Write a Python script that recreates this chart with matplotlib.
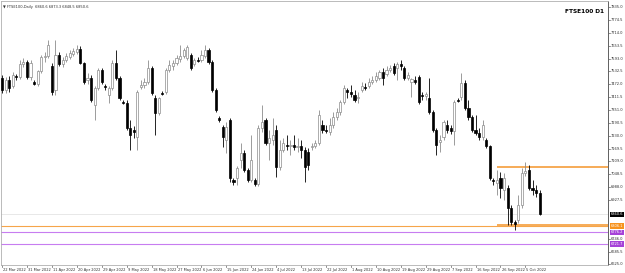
import matplotlib
matplotlib.use("Agg")
import matplotlib.pyplot as plt
from matplotlib.transforms import blended_transform_factory
import numpy as np

# FTSE100 daily candles, 22 Mar 2022 .. Oct 2022
OPEN = [7501, 7445, 7492, 7464, 7511, 7506, 7567, 7577, 7506, 7483,
        7473, 7534, 7600, 7605, 7558, 7445, 7610, 7567, 7586, 7600,
        7614, 7624, 7638, 7572, 7492, 7501, 7374, 7454, 7539, 7464,
        7422, 7454, 7572, 7501, 7389, 7384, 7266, 7257, 7224, 7459,
        7468, 7483, 7548, 7407, 7337, 7431, 7436, 7539, 7558, 7572,
        7591, 7605, 7595, 7610, 7567, 7586, 7586, 7605, 7633, 7577,
        7445, 7313, 7271, 7210, 7304, 7022, 7031, 7116, 7149, 7069,
        7022, 7022, 7003, 7266, 7304, 7196, 7210, 7257, 7083, 7163,
        7186, 7182, 7186, 7177, 7182, 7163, 7154, 7177, 7182, 7196,
        7280, 7257, 7248, 7280, 7318, 7342, 7389, 7445, 7436, 7422,
        7407, 7445, 7459, 7464, 7483, 7492, 7501, 7530, 7520, 7539,
        7558, 7548, 7567, 7548, 7501, 7483, 7492, 7506, 7422, 7417,
        7407, 7342, 7257, 7201, 7224, 7280, 7266, 7252, 7398, 7412,
        7478, 7360, 7318, 7257, 7243, 7224, 7210, 7182, 7022, 7008,
        7031, 6975, 6984, 6890, 6825, 6834, 6904, 7055, 7069, 6984,
        6975, 6961]
HIGH = [7515, 7506, 7511, 7530, 7520, 7586, 7595, 7586, 7586, 7492,
        7539, 7610, 7624, 7680, 7572, 7680, 7624, 7600, 7619, 7633,
        7642, 7656, 7652, 7577, 7525, 7515, 7464, 7548, 7548, 7473,
        7464, 7586, 7633, 7511, 7398, 7398, 7304, 7276, 7445, 7492,
        7501, 7586, 7558, 7422, 7412, 7440, 7548, 7586, 7586, 7610,
        7656, 7642, 7656, 7619, 7595, 7600, 7633, 7656, 7642, 7586,
        7454, 7323, 7280, 7295, 7313, 7031, 7088, 7196, 7163, 7078,
        7234, 7031, 7280, 7374, 7313, 7257, 7313, 7280, 7210, 7219,
        7234, 7210, 7234, 7219, 7210, 7177, 7172, 7196, 7210, 7351,
        7304, 7280, 7313, 7342, 7360, 7398, 7468, 7454, 7468, 7445,
        7436, 7483, 7478, 7501, 7511, 7530, 7539, 7548, 7558, 7562,
        7572, 7577, 7586, 7558, 7530, 7501, 7511, 7515, 7436, 7436,
        7501, 7351, 7266, 7234, 7304, 7304, 7280, 7398, 7407, 7525,
        7492, 7398, 7328, 7328, 7266, 7304, 7219, 7186, 7031, 7069,
        7060, 7055, 6998, 6904, 6834, 6952, 7078, 7107, 7092, 7022,
        6998, 6975]
LOW = [7431, 7431, 7436, 7454, 7492, 7497, 7553, 7497, 7492, 7468,
       7464, 7525, 7577, 7595, 7422, 7422, 7558, 7553, 7577, 7591,
       7605, 7614, 7567, 7473, 7473, 7389, 7304, 7445, 7473, 7445,
       7384, 7445, 7492, 7398, 7379, 7257, 7163, 7219, 7163, 7450,
       7454, 7473, 7422, 7234, 7328, 7422, 7426, 7530, 7539, 7562,
       7577, 7595, 7586, 7539, 7558, 7577, 7577, 7595, 7567, 7436,
       7342, 7295, 7177, 7149, 7013, 6998, 6998, 7078, 7060, 7013,
       7013, 6994, 6994, 7248, 7186, 7116, 7186, 7036, 7069, 7154,
       7163, 7140, 7163, 7154, 7125, 7013, 7069, 7163, 7172, 7186,
       7243, 7243, 7234, 7266, 7304, 7328, 7379, 7407, 7412, 7389,
       7384, 7436, 7445, 7454, 7473, 7483, 7492, 7468, 7511, 7530,
       7515, 7492, 7539, 7492, 7492, 7412, 7473, 7379, 7398, 7398,
       7332, 7248, 7140, 7154, 7210, 7243, 7238, 7186, 7389, 7398,
       7351, 7304, 7248, 7234, 7210, 7210, 7172, 7022, 6998, 6952,
       6937, 6928, 6810, 6810, 6787, 6820, 6890, 7041, 6975, 6952,
       6942, 6858]
CLOSE = [7445, 7492, 7454, 7515, 7506, 7567, 7577, 7506, 7572, 7473,
         7534, 7600, 7605, 7656, 7436, 7610, 7567, 7586, 7605, 7619,
         7628, 7638, 7572, 7483, 7501, 7398, 7454, 7539, 7483, 7459,
         7454, 7572, 7501, 7407, 7384, 7266, 7234, 7248, 7436, 7468,
         7483, 7548, 7431, 7337, 7407, 7426, 7539, 7562, 7572, 7595,
         7605, 7633, 7647, 7548, 7586, 7582, 7610, 7633, 7577, 7445,
         7351, 7304, 7224, 7271, 7031, 7013, 7078, 7149, 7069, 7022,
         7116, 7003, 7266, 7295, 7196, 7219, 7234, 7083, 7163, 7196,
         7182, 7186, 7177, 7182, 7163, 7083, 7092, 7182, 7196, 7328,
         7257, 7252, 7280, 7318, 7342, 7389, 7454, 7436, 7426, 7398,
         7412, 7464, 7454, 7483, 7492, 7511, 7530, 7501, 7539, 7548,
         7525, 7567, 7558, 7501, 7515, 7497, 7483, 7389, 7417, 7426,
         7342, 7257, 7186, 7210, 7295, 7257, 7252, 7389, 7393, 7478,
         7360, 7318, 7257, 7243, 7224, 7280, 7182, 7031, 7017, 7022,
         6984, 7031, 6890, 6825, 6815, 6904, 7055, 7064, 6984, 6975,
         6961, 6860.6]

DATE_LABELS = ["22 Mar 2022", "31 Mar 2022", "11 Apr 2022", "20 Apr 2022",
               "29 Apr 2022", "9 May 2022", "18 May 2022", "27 May 2022",
               "6 Jun 2022", "15 Jun 2022", "24 Jun 2022", "4 Jul 2022",
               "13 Jul 2022", "22 Jul 2022", "1 Aug 2022", "10 Aug 2022",
               "19 Aug 2022", "29 Aug 2022", "7 Sep 2022", "16 Sep 2022",
               "26 Sep 2022", "5 Oct 2022"]

PRICE_TICKS = [7835.0, 7774.5, 7714.0, 7653.5, 7593.0, 7532.5, 7472.0,
               7411.5, 7351.0, 7290.5, 7230.0, 7169.5, 7109.0, 7048.5,
               6988.0, 6927.5, 6867.0, 6806.5, 6746.0, 6685.5, 6625.0]

# horizontal levels
ORANGE_LEVEL = 6806.1
PURPLE_LEVELS = [6776.2, 6721.7]
BOX_TOP = 7085.0
BOX_BOTTOM = 6810.0
BOX_START = 139  # bar index where the box starts

ORANGE = "#f6a54a"
PURPLE = "#c77df0"
BULL_EDGE = "#8c8c8c"


def main():
    o = np.array(OPEN, float)
    h = np.array(HIGH, float)
    l = np.array(LOW, float)
    c = np.array(CLOSE, float)
    n = len(c)
    x = np.arange(n)
    bull = c >= o

    fig = plt.figure(figsize=(6.25, 2.73), dpi=100)
    fig.patch.set_facecolor("white")
    ax = fig.add_axes([1 / 625, 8 / 273, 607 / 625, 264 / 273])
    ax.set_facecolor("white")
    ax.set_xlim(-0.3, 170.2)
    ax.set_ylim(6622.5, 7863.3)

    # wicks
    ax.vlines(x[bull], l[bull], h[bull], color=BULL_EDGE, lw=0.6, zorder=3)
    ax.vlines(x[~bull], l[~bull], h[~bull], color="black", lw=0.6, zorder=3)
    # bodies
    w = 0.6
    body_lo = np.minimum(o, c)
    body_h = np.maximum(np.abs(c - o), 1.5)
    ax.bar(x[bull], body_h[bull], bottom=body_lo[bull], width=w,
           color="white", edgecolor=BULL_EDGE, linewidth=0.5, zorder=4)
    ax.bar(x[~bull], body_h[~bull], bottom=body_lo[~bull], width=w,
           color="black", edgecolor="black", linewidth=0.5, zorder=4)

    # levels
    last = c[-1]
    ax.axhline(last, color="#e4e4e4", lw=0.6, zorder=1)
    ax.axhline(ORANGE_LEVEL, color=ORANGE, lw=0.8, zorder=2)
    for lv in PURPLE_LEVELS:
        ax.axhline(lv, color=PURPLE, lw=0.8, zorder=2)
    ax.hlines([BOX_TOP, BOX_BOTTOM], BOX_START, 170.2, color=ORANGE, lw=1.3, zorder=2)

    # frame
    for side in ("left", "bottom", "top"):
        ax.spines[side].set_color("#b0b0b0")
        ax.spines[side].set_linewidth(0.6)
    ax.spines["right"].set_color("#606060")
    ax.spines["right"].set_linewidth(0.7)
    ax.set_xticks([])
    ax.set_yticks([])

    # right price scale
    tr = blended_transform_factory(ax.transAxes, ax.transData)
    for p in PRICE_TICKS:
        if abs(p - last) < 25 or abs(p - ORANGE_LEVEL) < 20:
            continue
        ax.plot([1.0, 1.004], [p, p], color="#606060", lw=0.5, transform=tr, clip_on=False)
        ax.text(1.005, p, f"{p:.1f}", transform=tr, fontsize=2.6, color="#303030",
                va="center", ha="left")

    def price_box(val, face):
        ax.text(1.004, val, f"{val:.1f}", transform=tr, fontsize=2.6, color="white",
                va="center", ha="left",
                bbox=dict(boxstyle="square,pad=0.2", fc=face, ec="none"))

    price_box(last, "black")
    price_box(ORANGE_LEVEL, "#f7931e")
    for lv in PURPLE_LEVELS:
        price_box(lv, "#a642d8")

    # date scale
    trx = blended_transform_factory(ax.transData, ax.transAxes)
    for i, lab in enumerate(DATE_LABELS):
        xi = i * 7
        ax.plot([xi, xi], [0, -0.008], color="#606060", lw=0.5, transform=trx, clip_on=False)
        ax.text(xi + 0.3, -0.01, lab, transform=trx, fontsize=2.6, color="#303030",
                va="top", ha="left")

    # titles
    ax.text(0.004, 0.985, "\u25bc FTSE100,Daily  6860.6 6873.3 6848.5 6850.6",
            transform=ax.transAxes, fontsize=2.6, color="#303030", va="top", ha="left")
    ax.text(0.993, 0.97, "FTSE100 D1", transform=ax.transAxes, fontsize=4.2,
            fontweight="bold", color="black", va="top", ha="right")

    fig.savefig("out.png", dpi=100, facecolor="white")


if __name__ == "__main__":
    main()
